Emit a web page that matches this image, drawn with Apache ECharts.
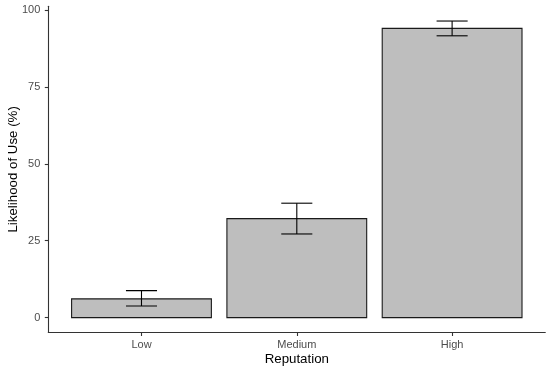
<!DOCTYPE html>
<html>
<head>
<meta charset="utf-8">
<script src="https://cdn.jsdelivr.net/npm/echarts@6/dist/echarts.min.js"></script>
<style>html,body{margin:0;padding:0;background:#fff}#c{width:550px;height:371px}</style>
</head>
<body>
<div id="c"></div>
<script>
const categories = ['Low', 'Medium', 'High'];
const means = [6.1, 32.2, 94.0];
const lower = [3.8, 27.2, 91.6];
const upper = [8.8, 37.2, 96.4];
const yTicks = [0, 25, 50, 75, 100];

const xPos = categories.map((c, i) => i + 1);
const barData = xPos.map((x, i) => [x, means[i]]);
const errData = xPos.map((x, i) => [x, lower[i], upper[i]]);

const chart = echarts.init(document.getElementById('c'), null, {renderer: 'canvas'});
const font = 'Liberation Sans, Arial, sans-serif';
chart.setOption({
  animation: false,
  grid: {left: 48.3, right: 4.7, top: 6.2, bottom: 38.5, containLabel: false, outerBoundsMode: 'none'},
  xAxis: {
    type: 'value', min: 0.4, max: 3.6,
    name: 'Reputation', nameLocation: 'middle', nameGap: 20, nameMoveOverlap: false,
    nameTextStyle: {color: '#000', fontSize: 13.3, fontFamily: font},
    splitLine: {show: false},
    axisLine: {show: true, onZero: false, lineStyle: {color: '#333', width: 1.1}},
    axisTick: {show: true, length: 3.5, customValues: xPos, lineStyle: {color: '#333', width: 1.1}},
    axisLabel: {customValues: xPos, margin: 7, color: '#4d4d4d', fontSize: 11, fontFamily: font,
      formatter: v => categories[Math.round(v) - 1] || ''}
  },
  yAxis: {
    type: 'value', min: -4.82, max: 101.22,
    name: 'Likelihood of Use (%)', nameLocation: 'middle', nameGap: 28, nameMoveOverlap: false,
    nameTextStyle: {color: '#000', fontSize: 13.3, fontFamily: font},
    splitLine: {show: false},
    axisLine: {show: true, onZero: false, lineStyle: {color: '#333', width: 1.1}},
    axisTick: {show: true, length: 3.5, customValues: yTicks, lineStyle: {color: '#333', width: 1.1}},
    axisLabel: {customValues: yTicks, margin: 8, color: '#4d4d4d', fontSize: 11, fontFamily: font}
  },
  series: [
    {
      type: 'custom',
      data: barData,
      encode: {x: 0, y: 1},
      renderItem: function (params, api) {
        const x = api.value(0), v = api.value(1);
        const p1 = api.coord([x - 0.45, v]);
        const p2 = api.coord([x + 0.45, 0]);
        return {
          type: 'rect',
          shape: {x: p1[0], y: p1[1], width: p2[0] - p1[0], height: p2[1] - p1[1]},
          style: {fill: '#bebebe', stroke: '#1a1a1a', lineWidth: 1.1}
        };
      }
    },
    {
      type: 'custom',
      data: errData,
      encode: {x: 0, y: [1, 2]},
      renderItem: function (params, api) {
        const x = api.value(0), lo = api.value(1), hi = api.value(2);
        const a = api.coord([x, lo]), b = api.coord([x, hi]);
        const l1 = api.coord([x - 0.1, lo]), r1 = api.coord([x + 0.1, lo]);
        const l2 = api.coord([x - 0.1, hi]), r2 = api.coord([x + 0.1, hi]);
        const st = {stroke: '#000', lineWidth: 1.1};
        return {
          type: 'group',
          children: [
            {type: 'line', shape: {x1: a[0], y1: a[1], x2: b[0], y2: b[1]}, style: st},
            {type: 'line', shape: {x1: l1[0], y1: l1[1], x2: r1[0], y2: r1[1]}, style: st},
            {type: 'line', shape: {x1: l2[0], y1: l2[1], x2: r2[0], y2: r2[1]}, style: st}
          ]
        };
      }
    }
  ]
});
</script>
</body>
</html>
